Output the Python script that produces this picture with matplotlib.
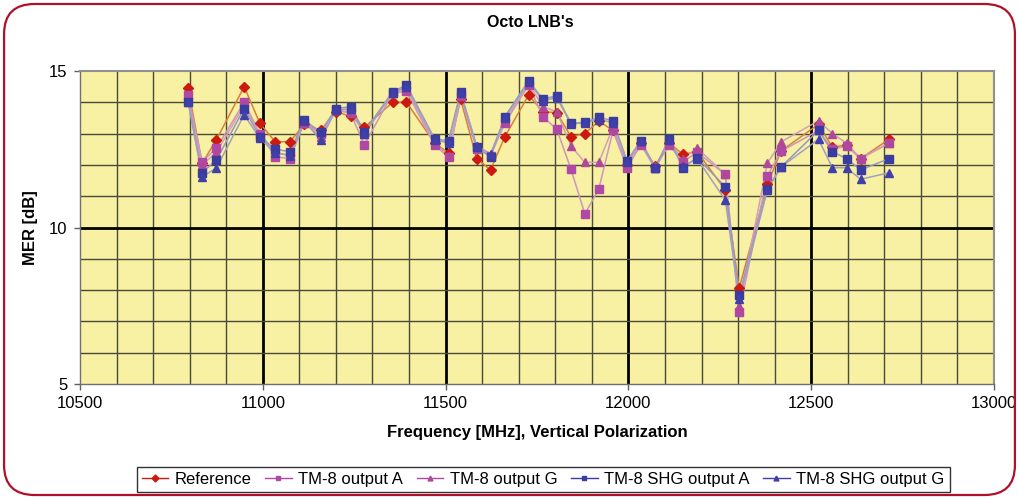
import matplotlib
matplotlib.use("Agg")
import matplotlib.pyplot as plt
from matplotlib.patches import FancyBboxPatch

freq = [10796, 10834, 10873, 10949, 10992, 11034, 11075, 11113, 11158, 11200,
        11240, 11278, 11355, 11393, 11470, 11508, 11541, 11585, 11623, 11662,
        11727, 11766, 11804, 11843, 11881, 11919, 11958, 11996, 12034, 12073,
        12111, 12149, 12188, 12265, 12303, 12380, 12418, 12520, 12558, 12597,
        12635, 12713]

reference = [14.45, 12.05, 12.8, 14.5, 13.33, 12.74, 12.74, 13.3, 13.1, 13.7,
             13.55, 13.2, 14.0, 14.0, 12.7, 12.38, 14.1, 12.2, 11.84, 12.9,
             14.23, 13.7, 13.67, 12.9, 13.0, 13.4, 13.1, 12.0, 12.7, 11.95,
             12.7, 12.34, 12.42, 11.2, 8.06, 11.38, 12.45, 13.3, 12.56, 12.64,
             12.2, 12.82]

tm8_a = [14.23, 12.1, 12.53, 14.0, 13.0, 12.26, 12.2, 13.35, 13.0, 13.75,
         13.65, 12.64, 14.29, 14.35, 12.64, 12.24, 14.2, 12.5, 12.3, 13.33,
         14.55, 13.54, 13.14, 11.86, 10.43, 11.23, 13.1, 11.9, 12.64, 11.9,
         12.64, 12.1, 12.4, 11.7, 7.29, 11.65, 12.44, 13.1, 12.5, 12.6,
         12.2, 12.7]

tm8_g = [14.1, 12.0, 12.4, 13.9, 13.0, 12.4, 12.3, 13.35, 12.9, 13.75,
         13.7, 13.0, 14.3, 14.45, 12.7, 12.3, 14.25, 12.6, 12.35, 13.4,
         14.6, 13.86, 13.7, 12.6, 12.08, 12.08, 13.2, 12.0, 12.7, 11.95,
         12.7, 12.2, 12.53, 11.7, 7.5, 12.05, 12.74, 13.41, 13.0, 12.69,
         12.2, 12.7]

shg_a = [14.02, 11.75, 12.16, 13.8, 12.9, 12.5, 12.42, 13.43, 13.05, 13.8,
         13.86, 13.06, 14.34, 14.55, 12.83, 12.77, 14.34, 12.56, 12.26, 13.54,
         14.69, 14.1, 14.21, 13.33, 13.36, 13.52, 13.41, 12.13, 12.77, 11.91,
         12.82, 11.91, 12.23, 11.3, 7.84, 11.23, 11.94, 13.1, 12.42, 12.2,
         11.84, 12.2]

shg_g = [14.0, 11.62, 11.9, 13.6, 12.85, 12.38, 12.3, 13.4, 12.8, 13.75,
         13.8, 13.0, 14.3, 14.5, 12.8, 12.7, 14.3, 12.6, 12.35, 13.5,
         14.65, 14.05, 14.15, 13.3, 13.35, 13.45, 13.35, 12.1, 12.75, 11.9,
         12.8, 11.95, 12.2, 10.88, 7.7, 11.2, 11.94, 12.82, 11.91, 11.91,
         11.54, 11.75]

labels = ["Reference", "TM-8 output A", "TM-8 output G",
          "TM-8 SHG output A", "TM-8 SHG output G"]
x_ticks = [10500, 11000, 11500, 12000, 12500, 13000]
y_ticks = [5, 10, 15]

plt.rcParams['font.family'] = ['Liberation Sans', 'DejaVu Sans']

fig = plt.figure(figsize=(10.19, 4.99), dpi=100)
fig.patch.set_facecolor('white')

# rounded red frame
frame = FancyBboxPatch((0.004, 0.008), 0.992, 0.984,
                       boxstyle="round,pad=0,rounding_size=0.03",
                       transform=fig.transFigure, facecolor='none',
                       edgecolor='#B0102A', linewidth=1.6, mutation_aspect=2.0)
fig.patches.append(frame)

ax = fig.add_axes([80/1019, 1-384/499, 914/1019, 313/499])
ax.set_facecolor('#F8F0A2')
ax.set_xlim(10500, 13000)
ax.set_ylim(5, 15)

# grid
for xv in range(10600, 13000, 100):
    lw = 2.0 if xv % 500 == 0 else 1.0
    col = 'black' if xv % 500 == 0 else '#4a4a3a'
    ax.axvline(xv, color=col, linewidth=lw, zorder=1)
for yv in range(6, 15):
    lw = 2.0 if yv % 5 == 0 else 1.0
    col = 'black' if yv % 5 == 0 else '#4a4a3a'
    ax.axhline(yv, color=col, linewidth=lw, zorder=1)

styles = [
    (reference, 'D', '#CC1A10', '#D8803A', 5),
    (tm8_a, 's', '#B048A8', '#C898C0', 5.5),
    (tm8_g, '^', '#B0489A', '#D0A0B8', 6),
    (shg_a, 's', '#3A3CA0', '#9898C0', 5.5),
    (shg_g, '^', '#4040A8', '#A0A0C0', 6),
]
handles = []
for (vals, mk, mcol, lcol, ms), lab in zip(styles, labels):
    ax.plot(freq, vals, color=lcol, linewidth=1.1, zorder=3)
    ax.plot(freq, vals, linestyle='none', marker=mk, markersize=ms,
            color=mcol, zorder=4)
    h, = ax.plot([], [], color=mcol, linewidth=1.0, marker=mk,
                 markersize=3.5, label=lab)
    handles.append(h)

for side in ['top', 'right']:
    ax.spines[side].set_color('#909090')
    ax.spines[side].set_linewidth(1.5)
for side in ['left', 'bottom']:
    ax.spines[side].set_color('#707070')
    ax.spines[side].set_linewidth(1.0)

ax.set_xticks(x_ticks)
ax.set_yticks(y_ticks)
ax.set_xticklabels([str(v) for v in x_ticks])
ax.set_yticklabels([str(v) for v in y_ticks])
ax.tick_params(axis='both', labelsize=12, length=4, width=1, color='#606060',
               pad=5)

ax.set_xlabel("Frequency [MHz], Vertical Polarization", fontsize=12,
              fontweight='bold', labelpad=10)
ax.set_ylabel("MER [dB]", fontsize=12, fontweight='bold', labelpad=8)
fig.text(0.52, 0.955, "Octo LNB's", ha='center', va='center', fontsize=11.5,
         fontweight='bold')

leg = fig.legend(handles=handles, loc='center', bbox_to_anchor=(0.533, 0.0385),
                 ncol=5, frameon=True, fancybox=False, edgecolor='black',
                 fontsize=12, handlelength=1.6, handletextpad=0.4,
                 columnspacing=0.8, borderpad=0.3)
leg.get_frame().set_linewidth(1.0)

fig.savefig("out.png", dpi=100, facecolor='white')
